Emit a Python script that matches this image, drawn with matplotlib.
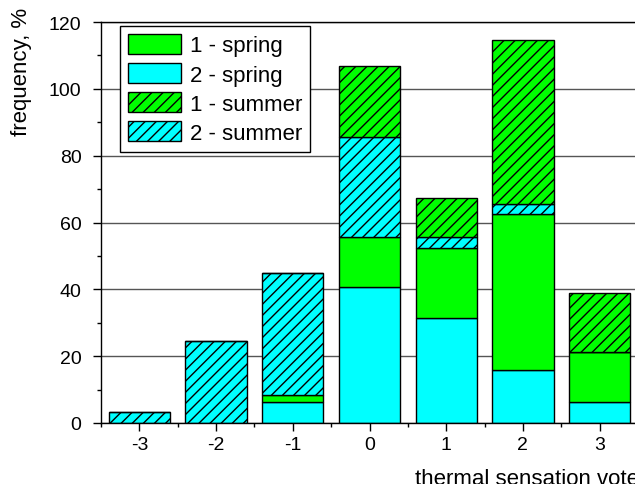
import matplotlib.pyplot as plt
import matplotlib.patches as mpatches
import numpy as np

plt.rcParams['font.family'] = ['Liberation Sans', 'DejaVu Sans']
plt.rcParams['hatch.linewidth'] = 1.0
plt.rcParams['axes.unicode_minus'] = False

# thermal sensation votes and frequencies (%)
votes = [-3, -2, -1, 0, 1, 2, 3]
spring_2 = [0, 0, 6.2, 40.6, 31.3, 15.8, 6.4]
spring_1 = [0, 0, 2.3, 15.0, 21.2, 46.6, 14.9]
summer_2 = [3.2, 24.4, 36.3, 30.1, 3.1, 3.1, 0]
summer_1 = [0, 0, 0, 21.2, 11.6, 49.2, 17.5]

green = "#00ff00"
cyan = "#00ffff"

fig = plt.figure(figsize=(6.35, 4.85), dpi=100)
ax = fig.add_axes([101/635, 61/485, 537/635, 401/485])

x = np.array(votes)
w = 0.8
b1 = np.array(spring_2)
b2 = b1 + np.array(spring_1)
b3 = b2 + np.array(summer_2)

ax.bar(x, spring_2, w, color=cyan, edgecolor="black", linewidth=1, zorder=2)
ax.bar(x, spring_1, w, bottom=b1, color=green, edgecolor="black", linewidth=1, zorder=2)
ax.bar(x, summer_2, w, bottom=b2, color=cyan, edgecolor="black", linewidth=1, hatch="///", zorder=2)
ax.bar(x, summer_1, w, bottom=b3, color=green, edgecolor="black", linewidth=1, hatch="///", zorder=2)

ax.set_xlim(-3.5, 3.5)
ax.set_ylim(0, 120)
ax.set_xticks(votes)
ax.set_xticks(np.arange(-3.5, 3.6, 1), minor=True)
ax.set_yticks(np.arange(0, 121, 20))
ax.set_yticks(np.arange(0, 121, 10), minor=True)
ax.tick_params(which="major", direction="out", length=6, width=1, labelsize=14)
ax.tick_params(axis="y", which="major", pad=8)
ax.tick_params(which="minor", direction="out", length=3, width=1)
ax.grid(axis="y", which="major", color="#555555", linewidth=1)
ax.set_axisbelow(True)
for s in ax.spines.values():
    s.set_linewidth(1)

fig.text(22/635, 1 - 8/485, "frequency, %", fontsize=16, rotation=90, ha="center", va="top")
fig.text(415/635, 0, "thermal sensation vote", fontsize=16, ha="left", va="baseline")

handles = [
    mpatches.Patch(facecolor=green, edgecolor="black", label="1 - spring"),
    mpatches.Patch(facecolor=cyan, edgecolor="black", label="2 - spring"),
    mpatches.Patch(facecolor=green, edgecolor="black", hatch="///", label="1 - summer"),
    mpatches.Patch(facecolor=cyan, edgecolor="black", hatch="///", label="2 - summer"),
]
leg = ax.legend(handles=handles, loc="upper left", bbox_to_anchor=(19/537, 397/401),
                fontsize=16, fancybox=False, framealpha=1, edgecolor="black",
                handlelength=2.4, handleheight=1.0, handletextpad=0.4,
                labelspacing=0.3, borderpad=0.35, borderaxespad=0)
leg.get_frame().set_linewidth(1)

fig.savefig("out.png", dpi=100)
